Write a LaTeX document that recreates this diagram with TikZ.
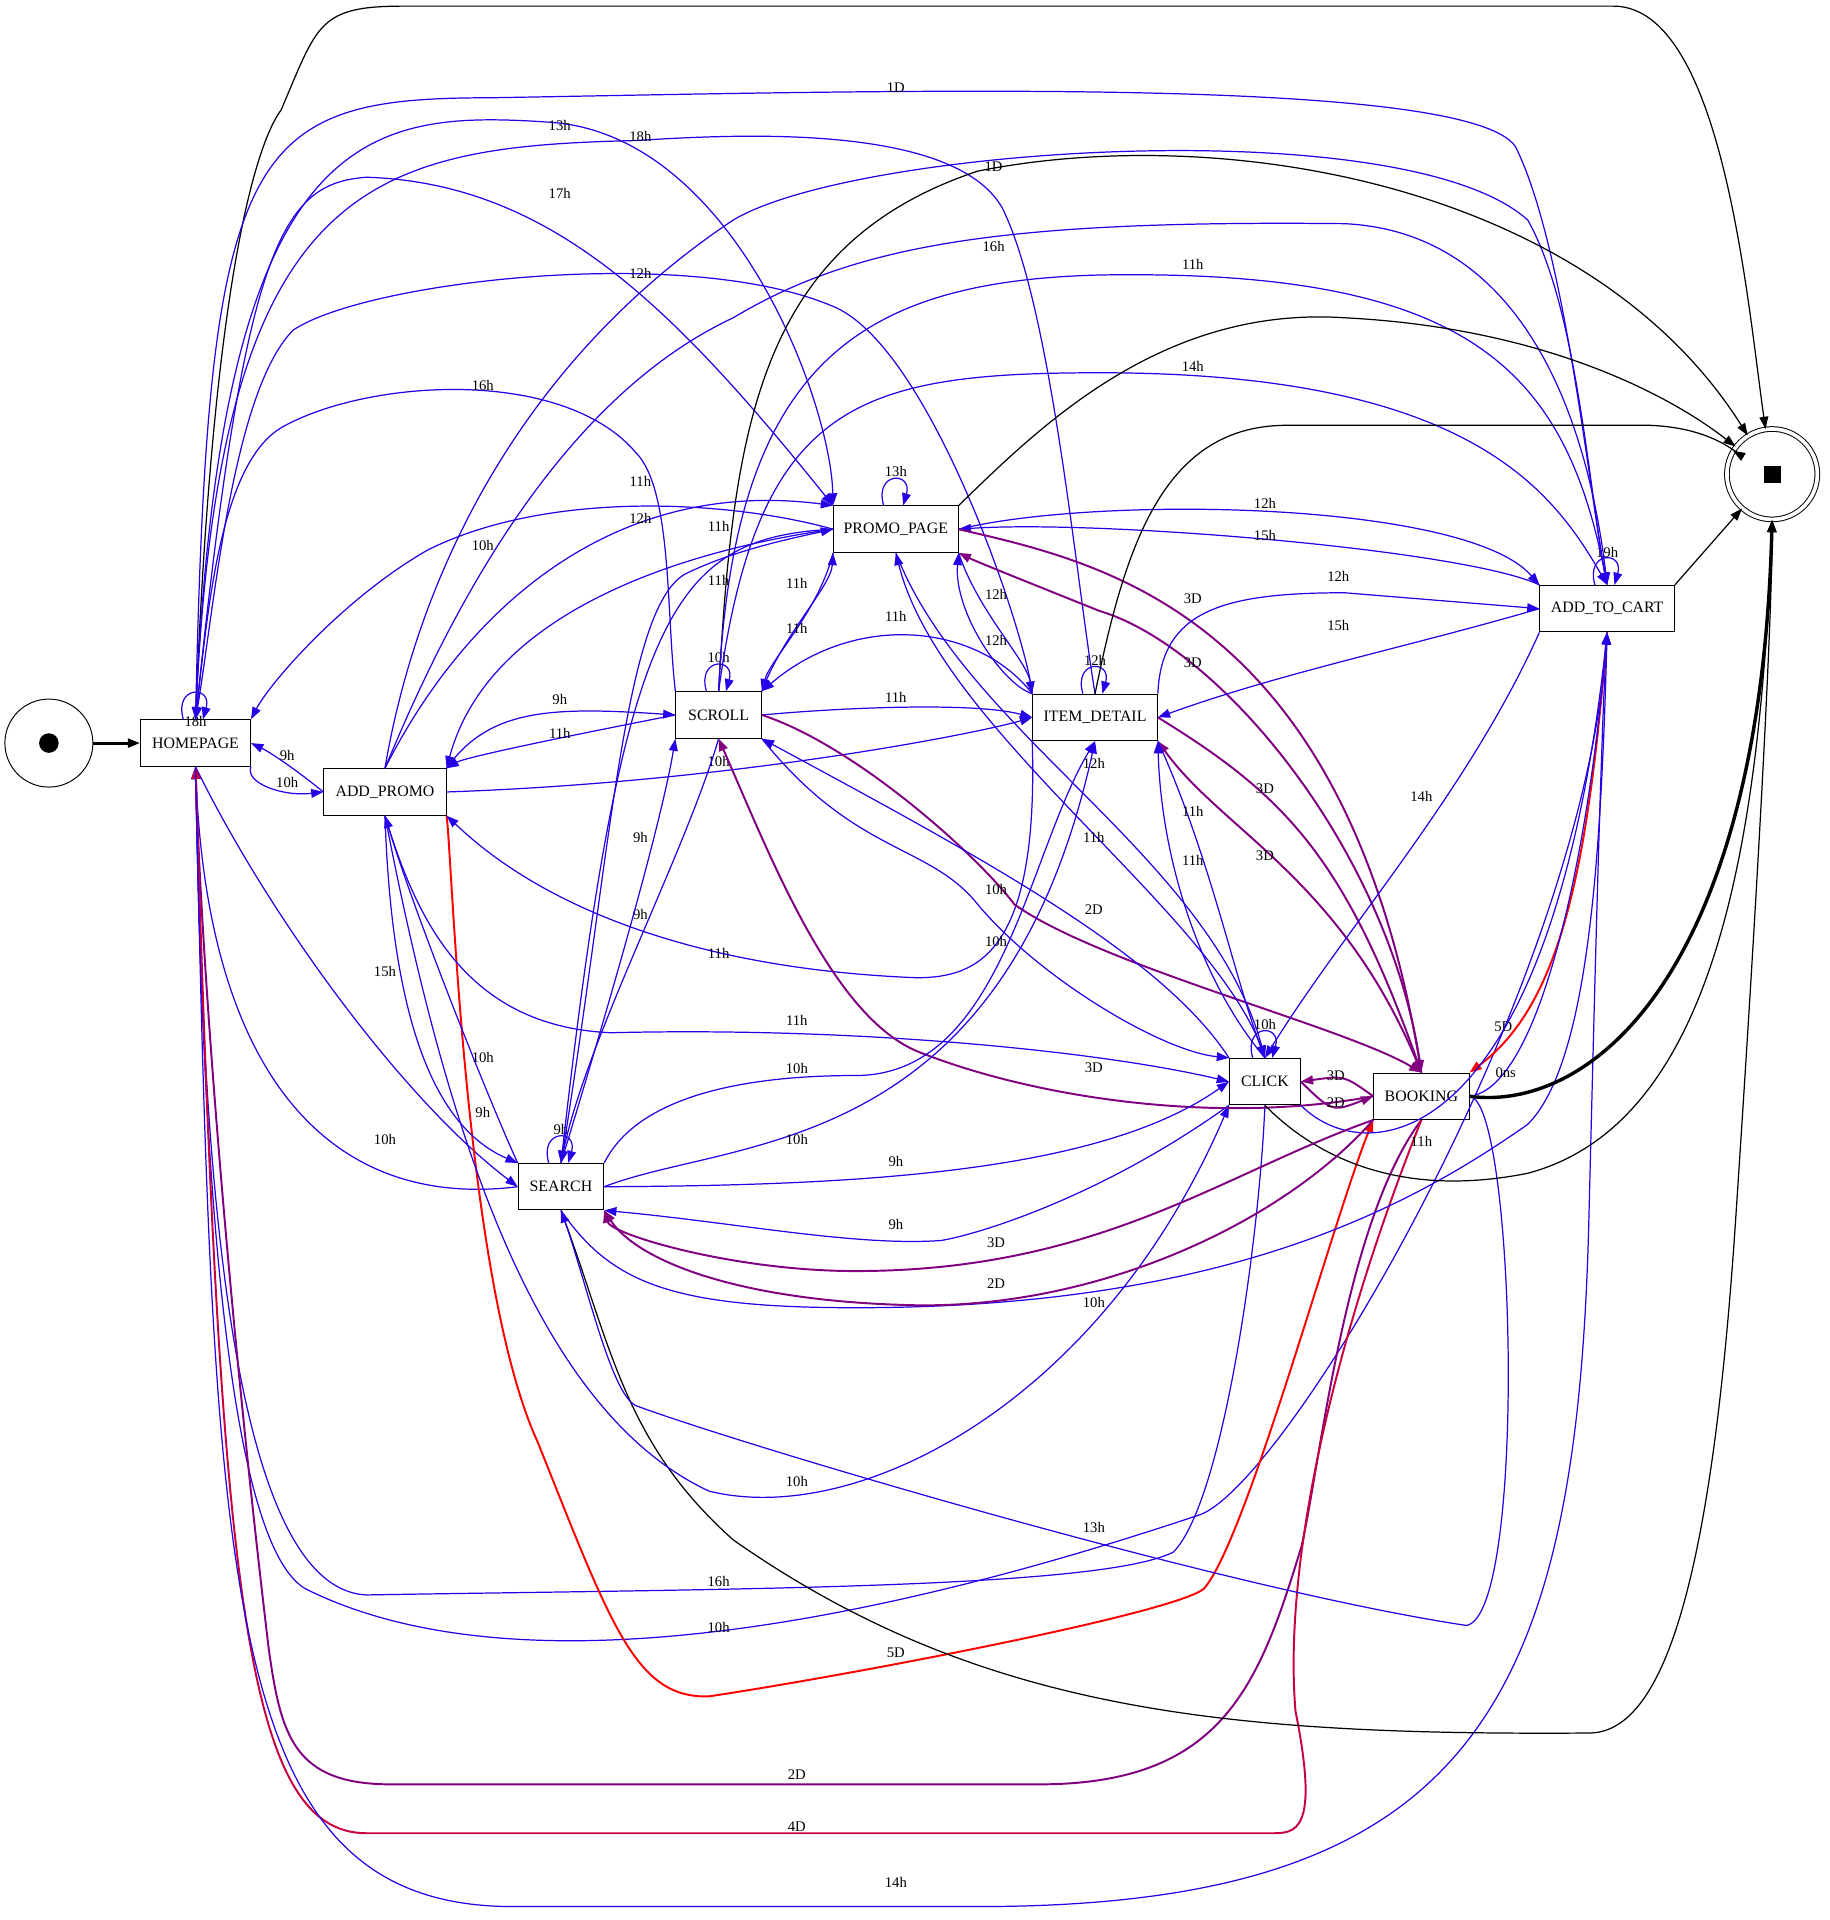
\documentclass[tikz,border=0pt]{standalone}
\usepackage{fontspec}
\setmainfont{Liberation Serif}
\usetikzlibrary{arrows.meta}
\definecolor{eb}{RGB}{36,0,230}
\definecolor{ep}{RGB}{128,0,128}
\definecolor{ec}{RGB}{200,0,60}
\begin{document}
\begin{tikzpicture}[x=0.5pt,y=-0.5pt,
 box/.style={draw,fill=white,minimum height=19pt,inner sep=0pt,font=\fontsize{6.5}{7}\selectfont},
 e/.style={-{Triangle[length=5pt,width=3.6pt]},line width=0.5pt},
 b/.style={e,eb}, p/.style={e,ep,line width=0.8pt}, r/.style={e,red,line width=0.8pt},
 c/.style={e,ec,line width=0.8pt}, k/.style={e,black},
 lab/.style={font=\fontsize{6}{7}\selectfont,inner sep=0.5pt,text=black}]
\useasboundingbox (0,0) rectangle (1497,1571);
\node[draw,circle,minimum size=36pt,inner sep=0] (S) at (40,608) {};
\node[circle,fill,minimum size=8pt,inner sep=0] (Sd) at (40,608) {};
\node[draw,circle,double,double distance=1.5pt,minimum size=37pt,inner sep=0] (END) at (1450,388) {};
\node[fill,minimum size=7pt,inner sep=0] (ENDs) at (1450,388) {};
\node[box,minimum width=45pt] (HP) at (160,608) {HOMEPAGE};
\node[box,minimum width=50pt] (AP) at (315,648) {ADD\_PROMO};
\node[box,minimum width=35pt] (SC) at (588,585) {SCROLL};
\node[box,minimum width=51pt] (PP) at (733,433) {PROMO\_PAGE};
\node[box,minimum width=51pt] (ID) at (896,587) {ITEM\_DETAIL};
\node[box,minimum width=55pt] (ATC) at (1315,498) {ADD\_TO\_CART};
\node[box,minimum width=29pt] (CL) at (1035,885) {CLICK};
\node[box,minimum width=39pt] (BK) at (1163,897) {BOOKING};
\node[box,minimum width=35pt] (SE) at (459,971) {SEARCH};

\draw[k,line width=1.2pt] (S) -- (HP);
% loops
\draw[b] ([xshift=-5pt]HP.north) .. controls +(-8,-28) and +(8,-28) .. ([xshift=3pt]HP.north) node[lab] at (160,590) {18h};
\draw[b] ([xshift=-5pt]SC.north) .. controls +(-8,-28) and +(8,-28) .. ([xshift=3pt]SC.north) node[lab] at (588,538) {10h};
\draw[b] ([xshift=-5pt]PP.north) .. controls +(-8,-28) and +(8,-28) .. ([xshift=3pt]PP.north) node[lab] at (733,386) {13h};
\draw[b] ([xshift=-5pt]ID.north) .. controls +(-8,-28) and +(8,-28) .. ([xshift=3pt]ID.north) node[lab] at (896,540) {12h};
\draw[b] ([xshift=-5pt]ATC.north) .. controls +(-8,-28) and +(8,-28) .. ([xshift=3pt]ATC.north) node[lab] at (1315,452) {19h};
\draw[b] ([xshift=-5pt]CL.north) .. controls +(-8,-28) and +(8,-28) .. ([xshift=3pt]CL.north) node[lab] at (1035,838) {10h};
\draw[b] ([xshift=-5pt]SE.north) .. controls +(-8,-28) and +(8,-28) .. ([xshift=3pt]SE.north) node[lab] at (459,924) {9h};

% HOMEPAGE
\draw[k] (HP.north) .. controls (175,200) and (215,110) .. (230,90) .. controls (260,20) and (260,5) .. (330,5) -- (1320,5) .. controls (1410,5) and (1430,250) .. (END);
\draw[b] (HP.north) .. controls (170,120) and (200,80) .. (400,80) .. controls (700,75) and (1200,60) .. (1240,120) .. controls (1280,200) and (1300,400) .. (ATC.north) node[lab] at (733,72) {1D};
\draw[b] (HP.north) .. controls (180,100) and (300,90) .. (450,100) .. controls (600,110) and (680,330) .. (PP.north west) node[lab] at (458,103) {13h};
\draw[b] (ID.north) .. controls (880,470) and (860,250) .. (820,170) .. controls (780,100) and (600,110) .. (520,115) .. controls (300,120) and (180,150) .. (HP.north) node[lab] at (524,112) {18h};
\draw[b] (HP.north) .. controls (200,200) and (230,150) .. (300,145) .. controls (450,150) and (550,250) .. (PP.north west) node[lab] at (458,158) {17h};
\draw[b] (ID.north west) .. controls (840,520) and (760,280) .. (680,250) .. controls (560,200) and (300,230) .. (240,270) .. controls (190,320) and (175,500) .. (HP.north) node[lab] at (524,224) {12h};
\draw[b] (SC.north west) .. controls (545,500) and (550,400) .. (520,370) .. controls (460,300) and (300,310) .. (230,350) .. controls (180,380) and (170,500) .. (HP.north) node[lab] at (395,315) {16h};
\draw[b] (PP.west) .. controls (600,410) and (450,400) .. (350,450) .. controls (280,490) and (220,560) .. (HP.north east) node[lab] at (524,394) {11h};
\draw[b] (HP.south east) .. controls (200,640) and (230,652) .. (AP.west) node[lab] at (235,640) {10h};
\draw[b] (AP.west) .. controls (240,628) and (220,615) .. (HP.east) node[lab] at (235,618) {9h};
\draw[b] (HP.south) .. controls (220,750) and (330,900) .. (SE.west) node[lab] at (315,795) {15h};
\draw[b] (SE.west) .. controls (270,990) and (170,880) .. (HP.south) node[lab] at (315,932) {10h};
\draw[b] (CL.south) .. controls (1030,1020) and (1000,1230) .. (960,1270) .. controls (900,1300) and (600,1300) .. (300,1305) .. controls (180,1300) and (165,900) .. (HP.south) node[lab] at (588,1294) {16h};
\draw[b] (ATC.south) .. controls (1300,800) and (1050,1220) .. (980,1240) .. controls (800,1300) and (450,1400) .. (250,1300) .. controls (180,1260) and (165,900) .. (HP.south) node[lab] at (588,1332) {10h};
\draw[p] (BK.south) .. controls (1100,1000) and (1080,1200) .. (1065,1265) .. controls (1030,1380) and (1000,1460) .. (850,1460) -- (320,1460) .. controls (240,1460) and (230,1420) .. (220,1350) .. controls (190,1100) and (165,800) .. (HP.south) node[lab] at (652,1452) {2D};
\draw[c] (BK.south) .. controls (1090,1100) and (1050,1280) .. (1060,1400) .. controls (1080,1500) and (1060,1500) .. (1040,1500) -- (300,1500) .. controls (200,1500) and (180,1300) .. (HP.south) node[lab] at (652,1495) {4D};
\draw[b] (HP.south) .. controls (175,1300) and (180,1560) .. (420,1560) -- (800,1560) .. controls (1200,1560) and (1290,1400) .. (1300,1000) .. controls (1305,800) and (1310,600) .. (ATC.south) node[lab] at (733,1540) {14h};

% ADD_PROMO
\draw[r] (AP.south east) .. controls (370,700) and (380,1050) .. (440,1180) .. controls (500,1330) and (520,1390) .. (580,1388) .. controls (700,1370) and (960,1320) .. (985,1300) .. controls (1020,1260) and (1090,1000) .. (BK.south west) node[lab] at (733,1352) {5D};
\draw[k] (SE.south) .. controls (500,1100) and (510,1180) .. (600,1260) .. controls (800,1400) and (1000,1420) .. (1300,1418) .. controls (1360,1418) and (1400,1300) .. (1420,1000) .. controls (1440,700) and (1450,500) .. (END.south);
\draw[b] (BK.east) .. controls (1240,900) and (1250,1320) .. (1200,1330) .. controls (1000,1300) and (600,1180) .. (520,1150) .. controls (500,1140) and (480,1050) .. (SE.south) node[lab] at (895,1250) {13h};
\draw[b] (AP.north) .. controls (340,480) and (420,300) .. (600,180) .. controls (700,120) and (1150,90) .. (1250,180) .. controls (1290,250) and (1300,400) .. (ATC.north) node[lab] at (813,136) {1D};
\draw[b] (AP.north) .. controls (360,520) and (450,330) .. (600,260) .. controls (700,200) and (820,180) .. (1100,183) .. controls (1250,190) and (1300,350) .. (ATC.north) node[lab] at (813,202) {16h};
\draw[b] (AP.north) .. controls (380,500) and (500,390) .. (PP.north west) node[lab] at (524,424) {12h};
\draw[b] (PP.west) .. controls (560,450) and (400,500) .. (AP.north east) node[lab] at (395,446) {10h};
\draw[b] (AP.north east) .. controls (400,580) and (450,578) .. (SC.west) node[lab] at (458,572) {9h};
\draw[b] (SC.west) .. controls (450,605) and (380,620) .. (AP.north east) node[lab] at (458,600) {11h};
\draw[b] (AP.east) .. controls (600,640) and (800,600) .. (ID.west) node[lab] at (588,623) {10h};
\draw[b] (ID.south west) .. controls (850,780) and (800,800) .. (750,800) .. controls (500,790) and (400,700) .. (AP.south east) node[lab] at (588,780) {11h};
\draw[b] (AP.south) .. controls (340,750) and (380,840) .. (500,845) .. controls (700,840) and (900,860) .. (CL.west) node[lab] at (652,835) {11h};
\draw[b] (AP.south) .. controls (320,820) and (350,920) .. (SE.north west) node[lab] at (395,910) {9h};
\draw[b] (SE.north west) .. controls (400,900) and (340,750) .. (AP.south) node[lab] at (395,865) {10h};
\draw[b] (AP.south) .. controls (360,900) and (430,1150) .. (580,1220) .. controls (700,1250) and (900,1150) .. (CL.south west) node[lab] at (652,1212) {10h};

% SCROLL
\draw[k] (SC.north) .. controls (600,350) and (620,200) .. (800,140) .. controls (1000,100) and (1300,150) .. (END);
\draw[b] (SC.north) .. controls (600,300) and (700,230) .. (900,225) .. controls (1200,220) and (1280,300) .. (ATC.north) node[lab] at (976,216) {11h};
\draw[b] (SC.north) .. controls (620,330) and (700,305) .. (900,305) .. controls (1200,305) and (1270,400) .. (ATC.north) node[lab] at (976,300) {14h};
\draw[b] (SC.north east) .. controls (640,520) and (680,480) .. (PP.south west) node[lab] at (652,477) {11h};
\draw[b] (PP.south west) .. controls (670,500) and (630,540) .. (SC.north east) node[lab] at (652,514) {11h};
\draw[b] (SE.north) .. controls (500,700) and (510,500) .. (560,470) .. controls (600,450) and (650,440) .. (PP.west) node[lab] at (588,475) {11h};
\draw[b] (PP.west) .. controls (550,440) and (510,500) .. (SE.north) node[lab] at (588,431) {11h};
\draw[b] (SC.east) .. controls (700,578) and (800,575) .. (ID.west) node[lab] at (733,571) {11h};
\draw[b] (ID.north west) .. controls (800,510) and (700,500) .. (SC.north east) node[lab] at (733,504) {11h};
\draw[b] (SC.south) .. controls (560,700) and (480,850) .. (SE.north) node[lab] at (524,748) {9h};
\draw[b] (SE.north) .. controls (490,850) and (540,680) .. (SC.south west) node[lab] at (524,685) {9h};
\draw[p] (SC.east) .. controls (700,610) and (800,700) .. (830,740) .. controls (900,790) and (1100,840) .. (BK.north) node[lab] at (895,744) {2D};
\draw[p] (BK.west) .. controls (1000,920) and (850,900) .. (750,860) .. controls (680,830) and (630,700) .. (SC.south) node[lab] at (895,874) {3D};
\draw[b] (SC.south east) .. controls (700,700) and (760,690) .. (800,740) .. controls (850,800) and (950,860) .. (CL.north west) node[lab] at (815,728) {10h};
\draw[b] (CL.north west) .. controls (950,780) and (800,700) .. (SC.south east) node[lab] at (815,770) {10h};

% PROMO_PAGE
\draw[k] (PP.north east) .. controls (850,350) and (950,250) .. (1100,260) .. controls (1300,270) and (1400,350) .. (END);
\draw[b] (PP.east) .. controls (900,405) and (1200,410) .. (ATC.north west) node[lab] at (1035,412) {12h};
\draw[b] (ATC.north west) .. controls (1200,450) and (900,425) .. (PP.east) node[lab] at (1035,438) {15h};
\draw[b] (PP.south east) .. controls (800,500) and (840,540) .. (ID.north west) node[lab] at (815,486) {12h};
\draw[b] (ID.north west) .. controls (820,560) and (780,500) .. (PP.south east) node[lab] at (815,524) {12h};
\draw[p] (PP.east) .. controls (900,460) and (1100,500) .. (BK.north) node[lab] at (976,490) {3D};
\draw[p] (BK.north) .. controls (1140,700) and (1000,530) .. (900,500) .. controls (850,480) and (800,460) .. (PP.south east) node[lab] at (976,542) {3D};
\draw[b] (PP.south) .. controls (790,600) and (990,700) .. (CL.north) node[lab] at (895,625) {12h};
\draw[b] (CL.north) .. controls (1000,750) and (770,600) .. (PP.south) node[lab] at (895,685) {11h};

% ITEM_DETAIL
\draw[k] (ID.north) .. controls (920,450) and (950,350) .. (1050,348) -- (1350,348) .. controls (1400,350) and (1420,370) .. (END);
\draw[b] (ID.north east) .. controls (950,500) and (1000,485) .. (1100,485) -- (ATC.west) node[lab] at (1095,472) {12h};
\draw[b] (ATC.west) .. controls (1150,530) and (1050,550) .. (ID.east) node[lab] at (1095,512) {15h};
\draw[p] (ID.east) .. controls (1050,650) and (1100,700) .. (BK.north) node[lab] at (1035,645) {3D};
\draw[p] (BK.north) .. controls (1100,720) and (1000,680) .. (ID.south east) node[lab] at (1035,700) {3D};
\draw[b] (ID.south east) .. controls (990,700) and (1010,800) .. (CL.north) node[lab] at (976,664) {11h};
\draw[b] (CL.north) .. controls (980,800) and (950,700) .. (ID.south east) node[lab] at (976,704) {11h};
\draw[b] (SE.north east) .. controls (520,900) and (600,880) .. (700,880) .. controls (820,880) and (840,700) .. (ID.south) node[lab] at (652,874) {10h};
\draw[b] (SE.east) .. controls (600,930) and (820,950) .. (ID.south) node[lab] at (652,932) {10h};

% ADD_TO_CART
\draw[k] (ATC.north east) -- (END);
\draw[r] (ATC.south) .. controls (1300,700) and (1280,820) .. (BK.north east) node[lab] at (1230,840) {5D};
\draw[b] (ATC.south west) .. controls (1200,650) and (1100,760) .. (CL.north) node[lab] at (1163,652) {14h};
\draw[b] (BK.east) .. controls (1260,890) and (1300,700) .. (ATC.south);
\draw[b] (CL.south east) .. controls (1120,960) and (1270,940) .. (ATC.south) node[lab] at (1163,934) {11h};
\draw[b] (SE.south) .. controls (500,1050) and (550,1070) .. (700,1070) .. controls (1000,1070) and (1150,990) .. (1250,920) .. controls (1300,870) and (1310,700) .. (ATC.south) node[lab] at (895,1066) {10h};

% CLICK
\draw[p] (CL.east) .. controls (1090,910) .. (BK.west) node[lab] at (1093,902) {2D};
\draw[p] (BK.west) .. controls (1100,880) .. (CL.east) node[lab] at (1093,880) {3D};
\draw[k] (CL.south) .. controls (1080,950) and (1150,980) .. (1250,960) .. controls (1400,920) and (1440,700) .. (END.south);
\draw[b] (SE.east) .. controls (700,970) and (900,960) .. (CL.west) node[lab] at (733,950) {9h};
\draw[b] (CL.south west) .. controls (900,980) and (800,1010) .. (770,1015) .. controls (700,1020) and (600,1000) .. (SE.south east) node[lab] at (733,1002) {9h};

% BOOKING
\draw[k,line width=1.4pt] (BK.east) .. controls (1300,910) and (1440,800) .. (END.south) node[lab] at (1232,878) {0ns};
\draw[p] (BK.south west) .. controls (1000,960) and (900,1040) .. (700,1040) .. controls (600,1040) and (500,1010) .. (SE.south east) node[lab] at (815,1017) {3D};
\draw[p] (BK.south west) .. controls (1050,1000) and (900,1070) .. (750,1068) .. controls (600,1065) and (520,1030) .. (SE.south east) node[lab] at (815,1050) {2D};
\end{tikzpicture}
\end{document}
